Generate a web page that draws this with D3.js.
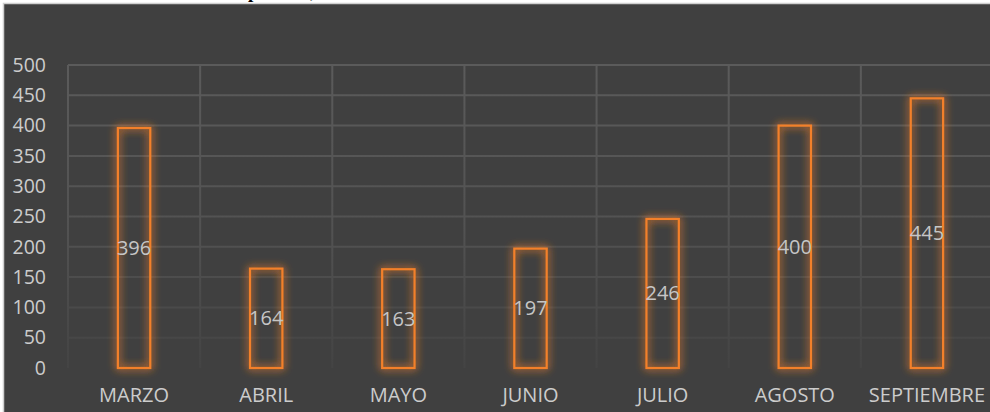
<!DOCTYPE html>
<html lang="es">
<head>
<meta charset="UTF-8">
<title>Casos por mes</title>
<style>
  html, body { margin: 0; padding: 0; background: #ffffff; }
  svg { display: block; font-family: 'Open Sans', sans-serif; }
</style>
</head>
<body>
<div id="chart"></div>
<script src="https://d3js.org/d3.v7.min.js"></script>
<script>
const months = ["MARZO", "ABRIL", "MAYO", "JUNIO", "JULIO", "AGOSTO", "SEPTIEMBRE"];
const cases = [396, 164, 163, 197, 246, 400, 445];
const yTicks = [0, 50, 100, 150, 200, 250, 300, 350, 400, 450, 500];
const titleText = "Casos atendidos en el período, 2019";

const W = 990, H = 412;
const margin = {top: 65, left: 68, bottom: 44, right: -3};

const svg = d3.select("#chart").append("svg")
  .attr("width", W).attr("height", H);

// title sits above the frame and is mostly cut off
const title = svg.append("text")
  .attr("y", -2)
  .style("font-family", "'Liberation Serif', 'DejaVu Serif', serif")
  .style("font-weight", "bold")
  .style("font-size", "19px")
  .attr("fill", "#000")
  .text(titleText);
const pIdx = titleText.indexOf("p");
title.attr("x", 248 - title.node().getSubStringLength(0, pIdx));

// dark frame
svg.append("rect")
  .attr("x", 3.5).attr("y", 3.5)
  .attr("width", W).attr("height", H)
  .attr("fill", "#404040")
  .attr("stroke", "#d0d0d0").attr("stroke-width", 1.5);

const x = d3.scaleBand()
  .domain(months)
  .range([margin.left, W - margin.right])
  .paddingInner(0).paddingOuter(0);

const y = d3.scaleLinear()
  .domain([0, 500])
  .range([H - margin.bottom, margin.top]);

const defs = svg.append("defs");
const glow = defs.append("filter").attr("id", "glow")
  .attr("x", "-60%").attr("y", "-20%").attr("width", "220%").attr("height", "140%");
glow.append("feGaussianBlur").attr("in", "SourceGraphic").attr("stdDeviation", 4).attr("result", "b");
glow.append("feComponentTransfer").attr("in", "b").attr("result", "b2")
  .append("feFuncA").attr("type", "linear").attr("slope", 1.5);
const merge = glow.append("feMerge");
merge.append("feMergeNode").attr("in", "b2");
merge.append("feMergeNode").attr("in", "SourceGraphic");

// gridlines fade out towards the bottom
const grad = defs.append("linearGradient").attr("id", "gridFade")
  .attr("gradientUnits", "userSpaceOnUse")
  .attr("x1", 0).attr("x2", 0).attr("y1", y(500)).attr("y2", y(0));
grad.append("stop").attr("offset", "0%").attr("stop-color", "#5b5b5b");
grad.append("stop").attr("offset", "55%").attr("stop-color", "#525252");
grad.append("stop").attr("offset", "100%").attr("stop-color", "#444444");

// horizontal gridlines
svg.append("g")
  .selectAll("line")
  .data(yTicks.filter(d => d > 0))
  .join("line")
  .attr("x1", margin.left).attr("x2", W)
  .attr("y1", d => y(d)).attr("y2", d => y(d))
  .attr("stroke", "url(#gridFade)").attr("stroke-width", 2);

// vertical gridlines at category boundaries
svg.append("g")
  .selectAll("line")
  .data(months)
  .join("line")
  .attr("x1", d => x(d)).attr("x2", d => x(d) + 0.01)
  .attr("y1", y(500)).attr("y2", y(0))
  .attr("stroke", "url(#gridFade)").attr("stroke-width", 2);

// y axis labels
const yAxis = d3.axisLeft(y).tickValues(yTicks).tickSize(0).tickPadding(0);
const gy = svg.append("g")
  .attr("transform", `translate(${margin.left - 22},0)`)
  .call(yAxis);
gy.select(".domain").remove();
gy.selectAll("text")
  .attr("fill", "#cccccc")
  .style("font-size", "19.5px")
  .style("font-family", "'Open Sans', sans-serif");

// x axis labels
const xAxis = d3.axisBottom(x).tickSize(0).tickPadding(0);
const gx = svg.append("g")
  .attr("transform", `translate(0,${y(0) + 20})`)
  .call(xAxis);
gx.select(".domain").remove();
gx.selectAll("text")
  .attr("fill", "#cccccc")
  .style("font-size", "20px")
  .style("font-family", "'Open Sans', sans-serif");

// bars
const barW = x.bandwidth() * 0.245;
svg.append("g")
  .selectAll("rect")
  .data(cases)
  .join("rect")
  .attr("x", (d, i) => x(months[i]) + x.bandwidth() / 2 - barW / 2)
  .attr("y", d => y(d))
  .attr("width", barW)
  .attr("height", d => y(0) - y(d))
  .attr("fill", "none")
  .attr("stroke", "#f3802a")
  .attr("stroke-width", 2.2)
  .attr("filter", "url(#glow)");

// value labels, centred in each bar
svg.append("g")
  .selectAll("text")
  .data(cases)
  .join("text")
  .attr("x", (d, i) => x(months[i]) + x.bandwidth() / 2)
  .attr("y", d => (y(d) + y(0)) / 2)
  .attr("dy", "0.35em")
  .attr("text-anchor", "middle")
  .attr("fill", "#c6c6c6")
  .style("font-size", "20px")
  .text(d => d);
</script>
</body>
</html>
